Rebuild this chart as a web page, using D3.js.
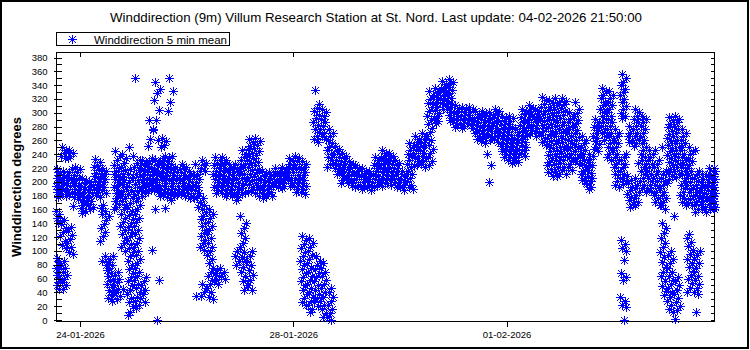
<!DOCTYPE html>
<html><head><meta charset="utf-8">
<script src="https://cdn.jsdelivr.net/npm/d3@7"></script>
<style>
body{margin:0;background:#fff}
svg{display:block}
text{font-family:"Liberation Sans",Arial,sans-serif;fill:#000}
</style>
</head><body>
<svg id="c" width="750" height="350"></svg>
<script>
// ---- data: wind direction (degrees), 3-hour bins ----
const titleText = "Winddirection (9m) Villum Research Station at St. Nord. Last update: 04-02-2026 21:50:00";
const legendText = "Winddirection 5 min mean";
const yTitle = "Winddirection degrees";
const domainStart = "2026-01-23T13:10";
const domainEnd = "2026-02-04T21:50";
const xTickDates = ["2026-01-24T00:00","2026-01-28T00:00","2026-02-01T00:00"];
const yMajorTicks = [0,20,40,60,80,100,120,140,160,180,200,220,240,260,280,300,320,340,360,380];
const yMinorTicks = [0,10,20,30,40,50,60,70,80,90,100,110,120,130,140,150,160,170,180,190,200,210,220,230,240,250,260,270,280,290,300,310,320,330,340,350,360,370,380];

const day23 = [ // 3-hour bins from 12:00
 [218,214,210,206,202,198,194,190,186,182,178,158,153,148,144,140,90,85,80,75,70,65,60,55,50,45],
 [250,246,242,238,234,215,211,207,203,199,195,191,187,183,180,145,139,133,127,121,115,109,104,85,80,75,70,65,60,55,50,45],
 [246,242,238,235,218,214,210,206,202,198,194,190,186,182,165,135,129,123,117,111,105,99,95],
 [222,218,214,210,206,202,198,194,190,186,182,178,175]];
const day24 = [
 [206,202,198,194,190,186,182,178,174,170,166,162,158,155],
 [200,196,192,188,184,180,176,172,168,164,160],
 [233,229,225,221,217,213,209,205,201,197,193,189,185,181,178],
 [220,216,212,208,204,200,196,192,188,184,166,162,158,154,145,139,133,127,121,115,92,86,80],
 [150,92,88,84,80,76,72,68,64,60,56,52,48,44,40,36,32,28],
 [244,238,232,224,220,216,212,208,204,200,196,192,188,184,180,176,172,168,164,160,70,65,60,55,50,45,40,35,30],
 [240,234,228,222,217,212,207,202,197,192,187,182,177,172,166,160,154,148,142,136,130,124,118,112,106,100,45],
 [251,238,218,212,206,200,194,188,182,176,170,164,158,152,146,140,134,128,122,116,110,104,98,92,86,80,74,68,62,56,50,44,38,32,26,20,12,7]];
const day25 = [
 [351,232,227,222,217,212,207,202,197,192,187,182,177,172,166,160,154,148,142,136,130,124,118,112,106,100,94,88,82,76,70,64,58,52,46,40,34,28,22,18],
 [232,228,224,220,216,212,208,204,200,196,192,188,184,180,62,56,50,44,38,32,26],
 [290,275,262,252,234,230,226,222,218,214,210,206,202,198,194,190,187,101],
 [345,335,328,318,304,290,277,261,232,228,224,220,216,212,208,204,200,196,192,188,185,160,58,0],
 [264,259,254,250,238,234,230,226,222,218,214,210,206,202,198,194,190,186,182,179,162],
 [350,331,316,302,238,234,230,226,222,218,214,210,206,202,198,194,190,186,182,178,174],
 [222,218,214,210,206,202,198,194,190,186,182,179],
 [226,222,218,214,210,206,202,198,194,190,186,182,179]];
const day26 = [
 [216,212,208,204,200,196,192,188,184,180,176],
 [226,216,212,208,204,200,196,192,188,184,180,176,164,35],
 [232,228,224,220,216,176,171,166,161,156,151,146,141,136,131,126,121,116,111,106,102,52,46,40,35],
 [160,154,148,142,136,130,124,118,112,106,100,94,88,82,76,70,64,58,52,46,40,34,30],
 [236,232,228,224,220,216,212,208,204,200,196,192,188,184,76,72,68,64,60,56,52],
 [236,232,228,224,220,216,212,208,204,200,196,192,188,184,180,70,64,60],
 [226,222,218,214,210,206,202,198,194,190,186,182,179],
 [226,222,218,214,210,206,202,198,194,190,186,182,178,174,150,100,92,85,80]];
const day27 = [
 [246,241,236,231,226,221,216,211,206,201,196,191,186,182,140,133,126,119,112,105,98,91,84,77,70,63,56,50,44],
 [262,257,252,247,242,237,232,227,222,217,212,207,202,197,192,188,185,100,93,86,79,72,65,58,51,44],
 [264,259,254,249,244,239,234,229,224,219,214,209,204,199,194,189,184,180],
 [216,212,208,204,200,196,192,188,184,180,176],
 [214,210,206,202,198,194,190,186,182,179],
 [220,216,212,208,204,200,196,192],
 [222,218,214,210,206,202,198,194,191],
 [234,230,226,222,218,214,210,206,202,198,194]];
const day28 = [
 [238,234,230,226,222,218,214,210,206,202,198,194,190,186],
 [230,226,222,218,214,210,206,202,198,194,190,186,183,122,116,110,104,98,92,86,80,74,68,62,56,50,44,38,32,26,22],
 [118,112,106,100,94,88,82,76,70,64,58,52,46,40,34,28,22,16,12],
 [333,312,307,302,297,292,287,282,277,272,267,262,257,92,86,80,74,68,62,56,50,44,38,32,26,20],
 [306,301,296,291,286,281,276,271,266,262,82,76,70,64,58,52,46,40,34,28,22,16,10,4],
 [276,271,266,261,256,251,246,241,236,231,226,221,46,40,34,28,22,16,10,4,0],
 [252,248,244,240,236,232,228,224,220,216,212],
 [242,238,234,230,226,222,218,214,210,206,202,199]];
const day29 = [
 [230,226,222,218,214,210,206,202,198,195],
 [224,220,216,212,208,204,200,196,193],
 [220,216,212,208,204,200,196,192,189],
 [216,212,208,204,200,196,192,188],
 [236,232,228,224,220,216,212,208,204,200,196,192],
 [246,242,238,234,230,226,222,218,214,210,206,202,198,194],
 [242,238,234,230,226,222,218,214,210,206,202,198,195],
 [232,228,224,220,216,212,208,204,200,196,192]];
const day30 = [
 [216,212,208,204,200,196,192,188],
 [256,251,246,241,236,231,226,221,216,211,206,201,196,192,189],
 [266,262,258,254,250,246,242,238,234,230,226,223],
 [270,266,262,258,254,250,246,242,238,234,230,226,222],
 [332,326,320,314,308,302,296,290,284,278,272,266,260,254,248,242,236,230,224],
 [336,332,328,324,320,316,312,308,304,300,296,292,288,285],
 [346,342,338,334,330,326,322,318,314,310,306],
 [349,345,341,337,333,329,325,321,317,313,309,305,301,297,293,289]];
const day31 = [
 [311,307,303,299,295,291,287,283,279],
 [309,305,301,297,293,289,285,281,278],
 [309,305,301,297,293,289,285,282],
 [302,298,294,290,286,282,278,274,270,266,262],
 [303,299,295,291,287,283,279,275,271,267,263,259,256],
 [301,297,293,289,285,281,277,273,269,265,261,240,225,200],
 [306,302,298,294,290,286,282,278,274,270,266,262,258],
 [296,292,288,284,280,276,272,268,264,260,256,252,248,244,240,236]];
const day01 = [
 [296,292,288,284,280,276,272,268,264,260,256,252,248,244,240,236,232,228],
 [276,272,268,264,260,256,252,248,244,240,236,232,229],
 [306,302,298,294,290,286,282,278,274,270,266,262,258,254,250,246,242,238],
 [311,307,303,299,295,291,287,283,279,275,271,268],
 [306,302,298,294,290,286,282,278,274,270,267],
 [323,318,313,308,303,298,293,288,283,278,273,268,263,258,254],
 [319,314,309,304,299,294,289,284,279,274,269,264,259,254,249,244,239,234,229,224,219,214,209],
 [321,316,311,306,301,296,291,286,281,276,271,266,261,256,251,246,241,236,231,226,221,216,211,208]];
const day02 = [
 [322,317,312,307,302,297,292,287,282,277,272,267,262,257,252,247,242,237,232,227,222,217,212],
 [301,296,291,286,281,276,271,266,261,256,251,246,241,236,231,226,221,217],
 [316,306,300,295,290,285,280,275,270,265,260,255,250,245,240,235,230,226],
 [266,261,256,251,246,241,236,231,226,221,216,211,206,202,199],
 [241,237,233,229,225,221,217,213,209,205,201,197,193,189],
 [291,287,283,279,275,271,267,263,259,255,251,248,245],
 [336,331,326,321,316,311,306,301,296,291,286,281,276,271,266,261],
 [331,326,321,316,311,306,301,296,291,286,281,276,271,266,261,256,251,246,241,236,231]];
const day03 = [
 [276,271,266,261,256,251,246,241,236,231,226,221,216,211,206,201,196,193],
 [356,350,345,340,335,330,325,320,315,310,305,300,296,292,241,236,231,226,221,216,211,206,201,197,116,110,104,100,87,68,62,58,34,28,22,19,0],
 [281,276,271,266,261,257,208,203,198,193,188,183,178,173,168,164],
 [306,301,296,291,286,281,276,271,266,261,256,252,227,206,201,196,191,186,181,176,171,166],
 [296,291,286,281,276,271,266,261,256,251,246,241,236,231,226,221,216,211,206,201,196,191,186],
 [246,241,236,231,226,221,216,211,206,201,196,191,187],
 [246,231,226,221,216,211,206,201,196,191,186,181,176,171,166],
 [250,216,211,206,201,196,191,186,181,176,171,166,161,140,133,126,119,112,105,98,91,84,77,70,63,56,49,42,36]];
const day04 = [
 [294,289,284,279,274,269,264,259,254,249,244,239,234,229,224,219,214,209,204,199,100,94,88,82,76,70,64,58,52,46,40,34,28,22,16,11],
 [296,291,286,281,276,271,266,261,256,251,246,241,236,231,226,221,216,211,207,150,62,56,50,44,38,32,26,20,14,2],
 [276,271,266,261,256,251,246,241,236,231,226,221,216,211,206,201,196,191,186,181,176,171,167],
 [250,245,240,235,230,225,220,215,210,205,200,195,190,185,180,175,170,166,125,119,113,107,101,95,89,83,77,71,65,59,53,47,41],
 [246,216,211,206,201,196,191,186,181,176,171,166,161,156,100,94,88,82,76,70,64,58,52,46,40,37,12],
 [212,208,204,200,196,192,188,184,180,176,172,168,164,160,157],
 [220,216,212,208,204,200,196,192,188,184,180,176,172,168,164,160],
 [220,216,212,208,204,200,196,192,188,184,180,176,172,168,164,160]];

const dayStarts = ["2026-01-23T12:00","2026-01-24T00:00","2026-01-25T00:00","2026-01-26T00:00",
 "2026-01-27T00:00","2026-01-28T00:00","2026-01-29T00:00","2026-01-30T00:00","2026-01-31T00:00",
 "2026-02-01T00:00","2026-02-02T00:00","2026-02-03T00:00","2026-02-04T00:00"];
const dayBins = [day23,day24,day25,day26,day27,day28,day29,day30,day31,day01,day02,day03,day04];

// ---- build points ----
const parse = d3.utcParse("%Y-%m-%dT%H:%M");
const t0 = parse(domainStart), t1 = parse(domainEnd);
const H = 3600*1000;
const points = [];
dayBins.forEach((bins, di) => {
  const ds = parse(dayStarts[di]).getTime();
  bins.forEach((vals, bi) => {
    const bs = Math.max(ds + bi*3*H, t0.getTime());
    const be = Math.min(ds + (bi+1)*3*H, t1.getTime());
    if (be <= bs) return;
    vals.forEach((v, j) => {
      const f = ((j*0.618034) + 0.31) % 1;
      points.push({t: new Date(bs + f*(be-bs)), v});
    });
  });
});

// ---- layout ----
const svg = d3.select("#c");
const L = 56, R = 715, T = 52, B = 322;
const x = d3.scaleUtc().domain([t0, t1]).range([L, R]);
const y = d3.scaleLinear().domain([0, 380]).range([320, 57.5]);

svg.append("rect").attr("x",1).attr("y",1).attr("width",747).attr("height",347)
  .attr("fill","#fff").attr("stroke","#000").attr("stroke-width",2);

svg.append("text").attr("x",376).attr("y",21.5).attr("text-anchor","middle")
  .style("font-size","13.3px").text(titleText);

const lg = svg.append("g");
lg.append("rect").attr("x",56.5).attr("y",32.5).attr("width",173).attr("height",13)
  .attr("fill","#fff").attr("stroke","#000");

const asterisk = {draw(ctx){ const r=4.5, d=3.2;
  ctx.moveTo(-r,0); ctx.lineTo(r,0); ctx.moveTo(0,-r); ctx.lineTo(0,r);
  ctx.moveTo(-d,-d); ctx.lineTo(d,d); ctx.moveTo(-d,d); ctx.lineTo(d,-d); }};
const sym = d3.symbol().type(asterisk);

lg.append("path").attr("d", sym()).attr("transform","translate(72.5,39.5)")
  .attr("fill","none").attr("stroke","#0000ff").style("shape-rendering","crispEdges");
lg.append("text").attr("x",94).attr("y",43.5).style("font-size","11.5px").text(legendText);

svg.append("text").attr("transform","translate(21,187) rotate(-90)").attr("text-anchor","middle")
  .style("font-size","13px").style("font-weight","bold").text(yTitle);

svg.append("rect").attr("x",L+0.5).attr("y",T+0.5).attr("width",R-L-1).attr("height",B-T-1)
  .attr("fill","none").attr("stroke","#000");

svg.append("g").selectAll("path").data(points).join("path")
  .attr("d", sym())
  .attr("transform", d => `translate(${Math.round(x(d.t))+0.5},${Math.round(y(d.v))+0.5})`)
  .attr("fill","none").attr("stroke","#0000ff").attr("stroke-width",1)
  .style("shape-rendering","crispEdges");

function clean(g){ g.select(".domain").remove(); g.selectAll("line").attr("stroke","#000").style("shape-rendering","crispEdges"); }
const ya = svg.append("g").attr("transform",`translate(${L+0.5},0)`)
  .call(d3.axisLeft(y).tickValues(yMajorTicks).tickSize(3).tickPadding(6))
  .call(clean);
ya.selectAll("text").style("font-size","9.5px").style("font-family","Liberation Sans, Arial, sans-serif");
svg.append("g").attr("transform",`translate(${L+0.5},0)`)
  .call(d3.axisRight(y).tickValues(yMinorTicks).tickSize(5).tickFormat(""))
  .call(clean);
svg.append("g").attr("transform",`translate(${R-0.5},0)`)
  .call(d3.axisLeft(y).tickValues(yMinorTicks).tickSize(4).tickFormat(""))
  .call(clean);
const xt = xTickDates.map(parse);
const xa = svg.append("g").attr("transform",`translate(0,${B-0.5})`)
  .call(d3.axisBottom(x).tickValues(xt).tickSize(5).tickPadding(5).tickFormat(d3.utcFormat("%d-%m-%Y")))
  .call(clean);
xa.selectAll("text").style("font-size","9.5px").style("font-family","Liberation Sans, Arial, sans-serif");
svg.append("g").attr("transform",`translate(0,${T+0.5})`)
  .call(d3.axisBottom(x).tickValues(xt).tickSize(4).tickFormat(""))
  .call(clean);
</script>
</body></html>
